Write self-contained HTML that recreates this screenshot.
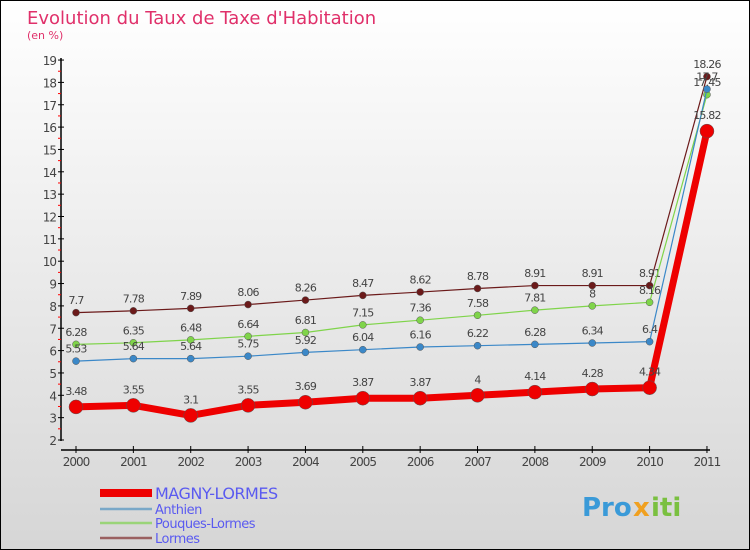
<!DOCTYPE html>
<html><head><meta charset="utf-8"><style>
body{margin:0;width:750px;height:550px;overflow:hidden;font-family:"DejaVu Sans","Liberation Sans",sans-serif}
#wrap{position:absolute;left:0;top:0;width:748px;height:548px;border:1px solid #000;background:linear-gradient(#fff,#d6d6d6)}
</style></head><body>
<div id="wrap">
<svg id="c" width="750" height="550" style="position:absolute;left:-1px;top:-1px"></svg>
</div>
<script>
const years=["2000","2001","2002","2003","2004","2005","2006","2007","2008","2009","2010","2011"];
const magny=[3.48,3.55,3.1,3.55,3.69,3.87,3.87,4,4.14,4.28,4.34,15.82];
const anthien=[5.53,5.64,5.64,5.75,5.92,6.04,6.16,6.22,6.28,6.34,6.4,17.7];
const pouques=[6.28,6.35,6.48,6.64,6.81,7.15,7.36,7.58,7.81,8,8.16,17.45];
const lormes=[7.7,7.78,7.89,8.06,8.26,8.47,8.62,8.78,8.91,8.91,8.91,18.26];
const yTicks=[2,3,4,5,6,7,8,9,10,11,12,13,14,15,16,17,18,19];
const NS="http://www.w3.org/2000/svg";
const svg=document.getElementById('c');
const X=i=>76+i*57.36, Y=v=>440-(v-2)*22.35;
function el(t,a,txt){const e=document.createElementNS(NS,t);for(const k in a)e.setAttribute(k,a[k]);if(txt!==undefined)e.textContent=txt;svg.appendChild(e);return e;}
let t=el('text',{x:27,y:24,'font-size':18,fill:'#e0306a'},'Evolution du Taux de Taxe d\'Habitation');


t=el('text',{x:27,y:39,'font-size':11,fill:'#e0306a'},'(en %)');


let a=el('line',{x1:61,y1:58,x2:61,y2:441,stroke:'#000','stroke-width':1.5});


yTicks.forEach(v=>{
 el('line',{x1:58,y1:Y(v),x2:64,y2:Y(v),stroke:'#000'});
 if(v<19) el('line',{x1:58,y1:Y(v+0.5),x2:61,y2:Y(v+0.5),stroke:'#f00'});
 const l=el('text',{x:56,y:Y(v)+5,'font-size':12,fill:'#444','text-anchor':'end','letter-spacing':'-1'},v);
 
 
});
a=el('line',{x1:61,y1:450,x2:710,y2:450,stroke:'#000','stroke-width':1.5});


years.forEach((y,i)=>{
 el('line',{x1:X(i),y1:446,x2:X(i),y2:453,stroke:'#000'});
 const l=el('text',{x:X(i),y:466,'font-size':12,fill:'#444','text-anchor':'middle','letter-spacing':'-1'},y);
 
 
});
function series(d,col,w,r,name){
 const p=el('polyline',{points:d.map((v,i)=>X(i)+','+Y(v)).join(' '),fill:'none',stroke:col,'stroke-width':w,'stroke-linejoin':'round'});
 
 
 d.forEach((v,i)=>{
  const c=el('circle',{cx:X(i),cy:Y(v),r:r,fill:col,stroke:'#555','stroke-width':0.5});
  
  
  const l=el('text',{x:X(i),y:Y(v)-(r+5),'font-size':11,fill:'#444','text-anchor':'middle','letter-spacing':'-0.8'},v);
  
  
 });
}
series(lormes,'#6b1a1a',1.2,3.5,'lormes');
series(pouques,'#7fd44a',1.2,3.5,'pouques-lormes');
series(anthien,'#3b88c8',1.2,3.5,'anthien');
series(magny,'#ee0000',7,7,'magny-lormes');
const leg=[['MAGNY-LORMES','#ee0000',8,16,493],['Anthien','#7aa8c8',2.5,13,509],['Pouques-Lormes','#9ad478',2.5,13,523],['Lormes','#9a6060',2.5,13,538]];
leg.forEach(([n,c,w,fs,y])=>{
 const g=el('line',{x1:100,y1:y,x2:152,y2:y,stroke:c,'stroke-width':w});
 
 
 const l=el('text',{x:155,y:y+fs*0.38,'font-size':fs,fill:'#5a5af0','letter-spacing':'-0.5'},n);
 
 
});
t=el('text',{x:582,y:516,'font-size':26,'font-weight':'bold',fill:'#3a9ad8'},'Pro');


t=el('text',{x:633,y:516,'font-size':26,'font-weight':'bold',fill:'#f0a020'},'x');
t=el('text',{x:651,y:516,'font-size':26,'font-weight':'bold',fill:'#7ac040'},'iti');
</script>
</body></html>
